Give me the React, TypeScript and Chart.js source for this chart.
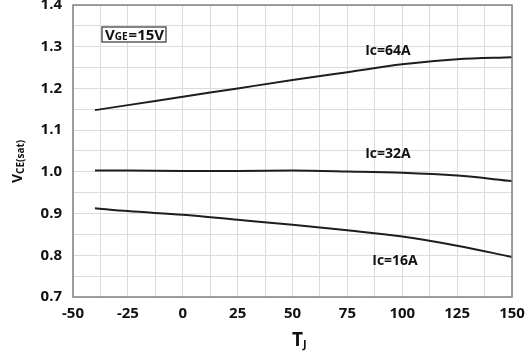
import React, { useEffect, useRef } from "react";
import { Chart, registerables } from "chart.js";
Chart.register(...registerables);

const tempC = [-40, -25, 0, 25, 50, 75, 100, 125, 150];
const vce64 = [1.148, 1.16, 1.18, 1.2, 1.22, 1.239, 1.258, 1.27, 1.275];
const vce32 = [1.003, 1.003, 1.002, 1.002, 1.003, 1.001, 0.998, 0.991, 0.978];
const vce16 = [0.913, 0.906, 0.897, 0.885, 0.873, 0.86, 0.845, 0.823, 0.796];
const seriesLabels = ["Ic=64A", "Ic=32A", "Ic=16A"];
const labelPos = [
  { x: 93.5, y: 1.29 },
  { x: 93.5, y: 1.043 },
  { x: 96.7, y: 0.786 },
];
const xTicks = [-50, -25, 0, 25, 50, 75, 100, 125, 150];
const yTicks = [0.7, 0.8, 0.9, 1.0, 1.1, 1.2, 1.3, 1.4];

const FONT = "'Open Sans', 'DejaVu Sans', sans-serif";

const overlay = {
  id: "overlay",
  afterDatasetsDraw(chart: any) {
    const { ctx, chartArea: a, scales } = chart;
    const xs = scales.x;
    const ys = scales.y;
    ctx.save();
    // border
    ctx.strokeStyle = "#808080";
    ctx.lineWidth = 1.5;
    ctx.strokeRect(a.left, a.top, a.right - a.left, a.bottom - a.top);
    // series labels
    ctx.fillStyle = "#111";
    ctx.font = `bold 14px ${FONT}`;
    ctx.textAlign = "center";
    ctx.textBaseline = "middle";
    seriesLabels.forEach((t, i) => {
      ctx.fillText(t, xs.getPixelForValue(labelPos[i].x), ys.getPixelForValue(labelPos[i].y));
    });
    // VGE box
    const bx = 102, by = 27, bw = 64, bh = 15;
    ctx.fillStyle = "#fff";
    ctx.fillRect(bx, by, bw, bh);
    ctx.strokeStyle = "#333";
    ctx.lineWidth = 1.2;
    ctx.strokeRect(bx, by, bw, bh);
    ctx.fillStyle = "#111";
    ctx.textAlign = "left";
    ctx.textBaseline = "alphabetic";
    ctx.font = `bold 15px ${FONT}`;
    let cx = bx + 3;
    const base = by + 13;
    ctx.fillText("V", cx, base);
    cx += ctx.measureText("V").width;
    ctx.font = `bold 10px ${FONT}`;
    ctx.fillText("GE", cx, base);
    cx += ctx.measureText("GE").width + 1;
    ctx.font = `bold 15px ${FONT}`;
    ctx.fillText("=15V", cx, base);
    // x title
    ctx.font = `bold 19px ${FONT}`;
    ctx.fillText("T", 292, 346);
    ctx.font = `bold 11px ${FONT}`;
    ctx.fillText("J", 303, 348);
    // y title rotated
    ctx.translate(22, 183);
    ctx.rotate(-Math.PI / 2);
    ctx.font = `bold 14px ${FONT}`;
    ctx.fillText("V", 0, 0);
    const vw = ctx.measureText("V").width;
    ctx.font = `bold 10px ${FONT}`;
    ctx.fillText("CE(sat)", vw, 2);
    ctx.restore();
  },
};

export default function App() {
  const ref = useRef<HTMLCanvasElement>(null);
  useEffect(() => {
    document.body.style.margin = "0";
    const mk = (d: number[]) => tempC.map((x, i) => ({ x, y: d[i] }));
    const ds = (d: number[]) => ({
      data: mk(d),
      borderColor: "#1e1e1e",
      borderWidth: 2,
      pointRadius: 0,
      cubicInterpolationMode: "monotone",
      fill: false,
    });
    const chart = new Chart(ref.current!, {
      type: "line",
      data: { datasets: [ds(vce64), ds(vce32), ds(vce16)] },
      options: {
        animation: false,
        responsive: false,
        layout: { padding: { top: 5, right: 18, left: 0, bottom: 0 } },
        plugins: { legend: { display: false }, tooltip: { enabled: false } },
        scales: {
          x: {
            type: "linear",
            min: -50,
            max: 150,
            afterBuildTicks: (s: any) => {
              const t = [];
              for (let v = -50; v <= 150; v += 12.5) t.push({ value: v });
              s.ticks = t;
            },
            afterFit: (s: any) => {
              s.height = 61;
              s.paddingLeft = 0;
              s.paddingRight = 0;
            },
            grid: { color: "#dcdcdc", lineWidth: 1, drawTicks: false },
            border: { display: false },
            ticks: {
              padding: 8,
              color: "#111",
              font: { family: FONT, size: 15, weight: "bold" },
              maxRotation: 0,
              autoSkip: false,
              callback: (v: any) => (xTicks.includes(Number(v)) ? String(v) : ""),
            },
          },
          y: {
            type: "linear",
            min: 0.7,
            max: 1.4,
            afterBuildTicks: (s: any) => {
              const t = [];
              for (let i = 0; i <= 14; i++) t.push({ value: Math.round((0.7 + i * 0.05) * 100) / 100 });
              s.ticks = t;
            },
            afterFit: (s: any) => {
              s.width = 73;
              s.paddingTop = 0;
              s.paddingBottom = 0;
            },
            grid: { color: "#dcdcdc", lineWidth: 1, drawTicks: false },
            border: { display: false },
            ticks: {
              padding: 11,
              color: "#111",
              font: { family: FONT, size: 15, weight: "bold" },
              autoSkip: false,
              callback: (v: any) => {
                const n = Math.round(Number(v) * 100) / 100;
                return yTicks.some((t) => Math.abs(t - n) < 1e-6) ? n.toFixed(1) : "";
              },
            },
          },
        },
      },
      plugins: [overlay],
    });
    return () => chart.destroy();
  }, []);
  return <canvas ref={ref} width={530} height={358} style={{ display: "block" }} />;
}
